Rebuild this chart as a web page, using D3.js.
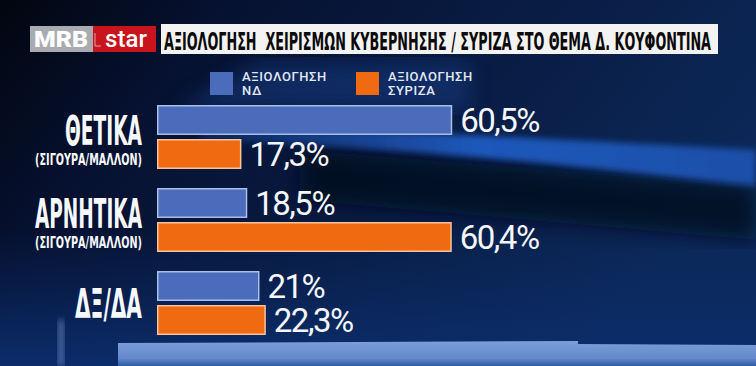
<!DOCTYPE html>
<html>
<head>
<meta charset="utf-8">
<style>
  html, body { margin: 0; padding: 0; background: #050d22; }
  svg { display: block; }
  .cat { font-family: "Liberation Sans Narrow", "DejaVu Sans Condensed", sans-serif; font-weight: bold; fill: #f7f8fb; }
  .val { font-family: Roboto, "Open Sans", sans-serif; fill: #f4f6fa; }
  .leg { font-family: Roboto, sans-serif; fill: #e2e8f5; font-size: 13px; font-weight: 500; letter-spacing: 0.6px; }
</style>
<script src="https://d3js.org/d3.v7.min.js"></script>
</head>
<body>
<div id="chart"></div>
<script>
// data
const categories = ["ΘΕΤΙΚΑ", "ΑΡΝΗΤΙΚΑ", "ΔΞ/ΔΑ"];
const subLabels = ["(ΣΙΓΟΥΡΑ/ΜΑΛΛΟΝ)", "(ΣΙΓΟΥΡΑ/ΜΑΛΛΟΝ)", ""];
const series = ["ΑΞΙΟΛΟΓΗΣΗ ΝΔ", "ΑΞΙΟΛΟΓΗΣΗ ΣΥΡΙΖΑ"];
const ndValues = [60.5, 18.5, 21];
const syrizaValues = [17.3, 60.4, 22.3];
const valueLabels = [["60,5%", "17,3%"], ["18,5%", "60,4%"], ["21%", "22,3%"]];
const title = "ΑΞΙΟΛΟΓΗΣΗ  ΧΕΙΡΙΣΜΩΝ ΚΥΒΕΡΝΗΣΗΣ / ΣΥΡΙΖΑ ΣΤΟ ΘΕΜΑ Δ. ΚΟΥΦΟΝΤΙΝΑ";

const width = 756, height = 366;
const colors = ["#4a6cba", "#f06a12"];
const strokes = ["#a9bfe8", "#f8c39a"];

const svg = d3.select("#chart").append("svg")
  .attr("width", width).attr("height", height);

// ---- background ----
const defs = svg.append("defs");
const bg = defs.append("linearGradient").attr("id", "bg").attr("x1", 0).attr("x2", 1).attr("y1", 0).attr("y2", 0.4);
bg.append("stop").attr("offset", 0).attr("stop-color", "#02060f");
bg.append("stop").attr("offset", 0.25).attr("stop-color", "#061130");
bg.append("stop").attr("offset", 0.65).attr("stop-color", "#091d45");
bg.append("stop").attr("offset", 1).attr("stop-color", "#0c2858");

const low = defs.append("linearGradient").attr("id", "low").attr("x1", 0).attr("x2", 0).attr("y1", 0).attr("y2", 1);
low.append("stop").attr("offset", 0).attr("stop-color", "#0a2a66").attr("stop-opacity", 0);
low.append("stop").attr("offset", 1).attr("stop-color", "#0c2f70").attr("stop-opacity", 0.9);

const sw = defs.append("linearGradient").attr("id", "sw").attr("x1", 0).attr("x2", 1);
sw.append("stop").attr("offset", 0).attr("stop-color", "#1a4fae").attr("stop-opacity", 0.3);
sw.append("stop").attr("offset", 0.5).attr("stop-color", "#1f58bb");
sw.append("stop").attr("offset", 1).attr("stop-color", "#1b4fa8");

const fl = defs.append("linearGradient").attr("id", "floor").attr("x1", 0).attr("x2", 0).attr("y1", 0).attr("y2", 1);
fl.append("stop").attr("offset", 0).attr("stop-color", "#7c9ed9");
fl.append("stop").attr("offset", 0.7).attr("stop-color", "#6488c9");
fl.append("stop").attr("offset", 1).attr("stop-color", "#2a5aa8");

defs.append("filter").attr("id", "blur").append("feGaussianBlur").attr("stdDeviation", 3);
defs.append("filter").attr("id", "blur2").append("feGaussianBlur").attr("stdDeviation", 10);

svg.append("rect").attr("width", width).attr("height", height).attr("fill", "url(#bg)");
svg.append("rect").attr("y", 230).attr("width", width).attr("height", 136).attr("fill", "url(#low)");

// blue glow around the legend
svg.append("path")
  .attr("d", "M175,110 L260,62 L470,62 L470,110 Z")
  .attr("fill", "#123a80").attr("opacity", 0.55).attr("filter", "url(#blur2)");

// dark zone under swoosh
svg.append("path")
  .attr("d", "M300,150 L756,185 L756,240 L300,200 Z")
  .attr("fill", "#030a1c").attr("opacity", 0.8).attr("filter", "url(#blur2)");

// swoosh
svg.append("path")
  .attr("d", "M200,128 C380,128 560,140 756,150 L756,186 C600,170 460,150 200,140 Z")
  .attr("fill", "url(#sw)").attr("filter", "url(#blur)");

// floor band
svg.append("path")
  .attr("d", "M118,343 L578,341 L578,344 L756,345 L756,366 L118,366 Z")
  .attr("fill", "url(#floor)");
svg.append("rect").attr("x", 58).attr("y", 320).attr("width", 6).attr("height", 46)
  .attr("fill", "#8fb0e8").attr("opacity", 0.5).attr("filter", "url(#blur)");

// ---- header ----
svg.append("rect").attr("x", 30).attr("y", 26).attr("width", 63).attr("height", 26).attr("fill", "#a9abb0");
svg.append("text").attr("x", 61).attr("y", 47).attr("text-anchor", "middle")
  .attr("font-family", "Roboto, sans-serif").attr("font-weight", 900).attr("font-size", 22)
  .attr("fill", "#ffffff").attr("textLength", 54).attr("lengthAdjust", "spacingAndGlyphs").text("MRB");
svg.append("rect").attr("x", 93).attr("y", 26).attr("width", 63).attr("height", 26).attr("fill", "#c8141c");
svg.append("path").attr("d", "M95,33 L95,46 L101,46").attr("fill", "none").attr("stroke", "#e7a0a0").attr("stroke-width", 1);
svg.append("text").attr("x", 126).attr("y", 47).attr("text-anchor", "middle")
  .attr("font-family", "Roboto, sans-serif").attr("font-weight", 500).attr("font-size", 24)
  .attr("fill", "#ffffff").text("star");

svg.append("rect").attr("x", 161).attr("y", 24).attr("width", 557).attr("height", 30).attr("fill", "#f3f3f3");
svg.append("text").attr("class", "cat").attr("x", 164).attr("y", 50)
  .attr("font-size", 25).style("fill", "#0b0b0b").style("white-space", "pre")
  .attr("textLength", 547).attr("lengthAdjust", "spacingAndGlyphs").text(title);

// ---- legend ----
const legendX = [210, 356];
const legendLines = [["ΑΞΙΟΛΟΓΗΣΗ", "ΝΔ"], ["ΑΞΙΟΛΟΓΗΣΗ", "ΣΥΡΙΖΑ"]];
const leg = svg.append("g").selectAll("g").data(series).join("g")
  .attr("transform", (d, i) => `translate(${legendX[i]},72)`);
leg.append("rect").attr("width", 23).attr("height", 23).attr("fill", (d, i) => colors[i]);
leg.append("text").attr("class", "leg").attr("x", 32).attr("y", 9)
  .text((d, i) => legendLines[i][0]);
leg.append("text").attr("class", "leg").attr("x", 32).attr("y", 23)
  .text((d, i) => legendLines[i][1]);

// ---- bars ----
const x = d3.scaleLinear().domain([0, 100]).range([157, 645]);
const y = d3.scaleBand().domain(categories).range([105, 335]).paddingInner(0.229).paddingOuter(0);
const yInner = d3.scaleBand().domain(series).range([0, y.bandwidth()]).paddingInner(0.118);

const rows = categories.map((c, i) => ({
  cat: c, sub: subLabels[i],
  vals: [ndValues[i], syrizaValues[i]].map((v, j) => ({ s: series[j], v, j, label: valueLabels[i][j] }))
}));

const groups = svg.append("g").selectAll("g").data(rows).join("g")
  .attr("transform", d => `translate(0,${y(d.cat)})`);

groups.selectAll("rect").data(d => d.vals).join("rect")
  .attr("x", x(0) + 0.75)
  .attr("y", d => yInner(d.s) + 0.75)
  .attr("width", d => x(d.v) - x(0) - 1.5)
  .attr("height", yInner.bandwidth() - 1.5)
  .attr("fill", d => colors[d.j])
  .attr("stroke", d => strokes[d.j])
  .attr("stroke-width", 1.5);

groups.selectAll("text.val").data(d => d.vals).join("text")
  .attr("class", "val")
  .attr("x", d => x(d.v) + 8)
  .attr("y", d => yInner(d.s) + yInner.bandwidth() / 2 + 12)
  .attr("font-size", 33)
  .attr("letter-spacing", -1.5)
  .text(d => d.label);

// category labels
const catWidths = { "ΘΕΤΙΚΑ": 77, "ΑΡΝΗΤΙΚΑ": 107, "ΔΞ/ΔΑ": 67 };
const mid = y.bandwidth() / 2;
groups.append("text").attr("class", "cat")
  .attr("x", 142).attr("text-anchor", "end")
  .attr("y", d => d.sub ? mid + 8 : mid + 15)
  .attr("font-size", 40)
  .attr("textLength", d => catWidths[d.cat]).attr("lengthAdjust", "spacingAndGlyphs")
  .text(d => d.cat);
groups.filter(d => d.sub).append("text").attr("class", "cat")
  .attr("x", 142).attr("text-anchor", "end")
  .attr("y", mid + 28)
  .attr("font-size", 15)
  .attr("textLength", 107).attr("lengthAdjust", "spacingAndGlyphs")
  .text(d => d.sub);
</script>
</body>
</html>
